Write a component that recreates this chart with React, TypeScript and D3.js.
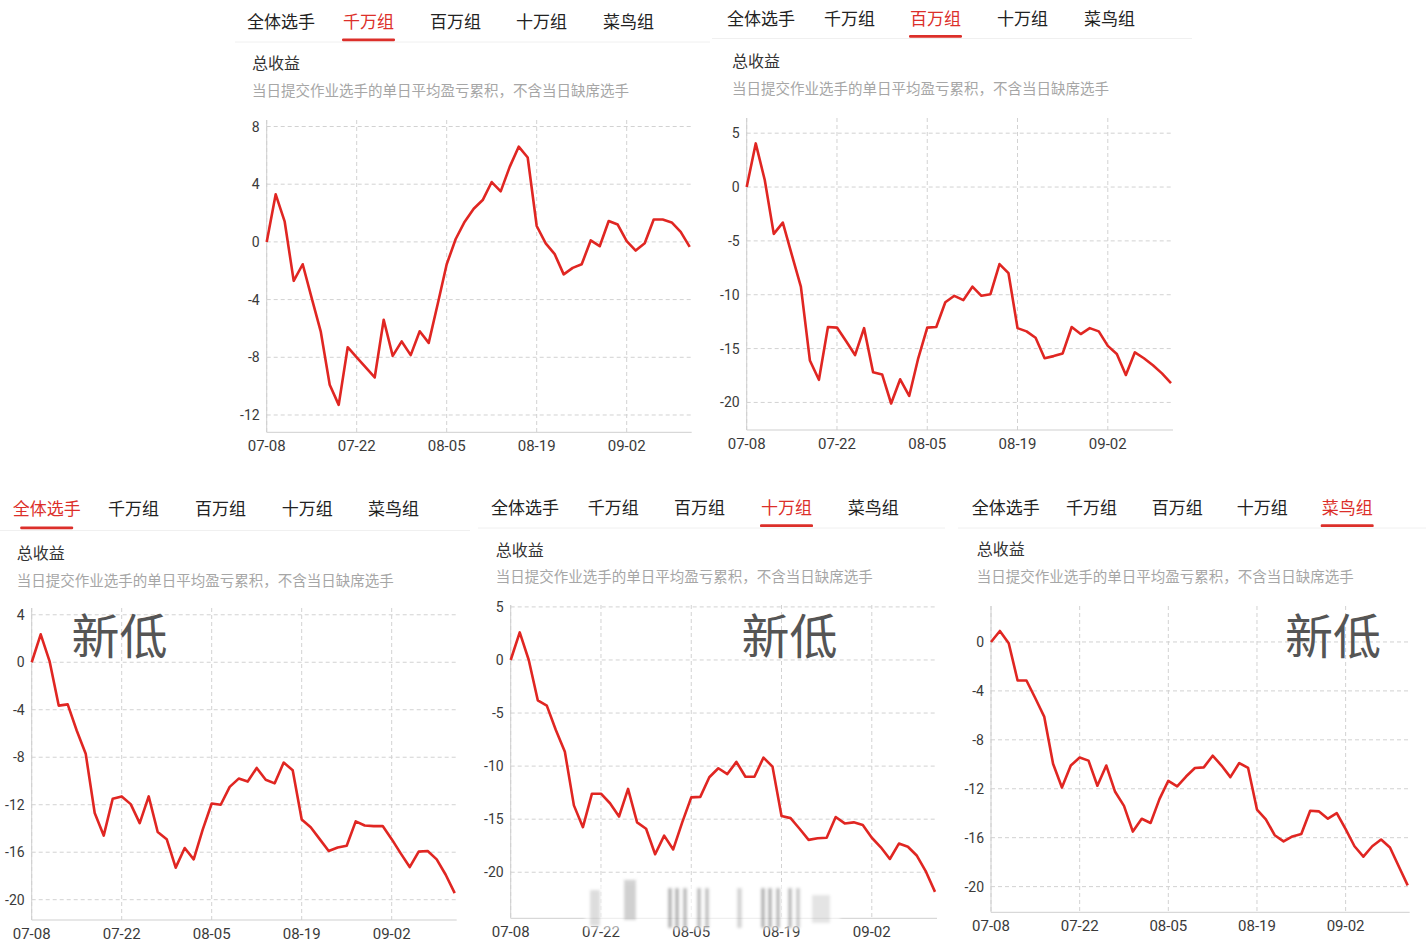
import React from "react";
import * as d3 from "d3";

// ---------- data ----------
const dates = [
  "07-08","07-09","07-10","07-11","07-12","07-15","07-16","07-17","07-18","07-19",
  "07-22","07-23","07-24","07-25","07-26","07-29","07-30","07-31","08-01","08-02",
  "08-05","08-06","08-07","08-08","08-09","08-12","08-13","08-14","08-15","08-16",
  "08-19","08-20","08-21","08-22","08-23","08-26","08-27","08-28","08-29","08-30",
  "09-02","09-03","09-04","09-05","09-06","09-09","09-10","09-11",
];
const xTickLabels = ["07-08", "07-22", "08-05", "08-19", "09-02"];
const tabs = ["全体选手", "千万组", "百万组", "十万组", "菜鸟组"];
const titleText = "总收益";
const subtitleText = "当日提交作业选手的单日平均盈亏累积，不含当日缺席选手";
const badgeText = "新低";

// 千万组
const tenMillion = [
  0, 3.3, 1.4, -2.7, -1.55, -3.9, -6.2, -9.9, -11.3, -7.3,
  -8.0, -8.7, -9.4, -5.4, -7.9, -6.9, -7.85, -6.2, -7.0, -4.3,
  -1.55, 0.2, 1.4, 2.3, 2.9, 4.15, 3.5, 5.2, 6.6, 5.85,
  1.1, -0.1, -0.85, -2.25, -1.8, -1.55, 0.1, -0.3, 1.45, 1.2,
  0.05, -0.6, -0.1, 1.55, 1.55, 1.35, 0.7, -0.35,
];
// 百万组
const million = [
  0, 4.05, 0.65, -4.35, -3.3, -6.3, -9.25, -16.1, -17.9, -13.0,
  -13.05, -14.3, -15.6, -13.1, -17.2, -17.4, -20.1, -17.85, -19.4, -15.9,
  -13.05, -13.0, -10.7, -10.1, -10.5, -9.25, -10.1, -9.95, -7.15, -8.0,
  -13.1, -13.4, -14.0, -15.9, -15.7, -15.45, -13.0, -13.65, -13.1, -13.4,
  -14.75, -15.5, -17.45, -15.35, -15.9, -16.55, -17.3, -18.2,
];
// 全体选手
const allPlayers = [
  0, 2.35, 0.05, -3.65, -3.55, -5.75, -7.7, -12.7, -14.6, -11.5,
  -11.3, -11.95, -13.55, -11.3, -14.3, -14.9, -17.3, -15.65, -16.6, -14.1,
  -11.9, -12.0, -10.5, -9.8, -10.05, -8.9, -9.9, -10.2, -8.45, -9.1,
  -13.25, -13.9, -14.9, -15.9, -15.6, -15.45, -13.4, -13.75, -13.8, -13.8,
  -14.9, -16.1, -17.25, -15.95, -15.9, -16.6, -17.9, -19.45,
];
// 十万组
const hundredK = [
  0, 2.6, 0, -3.8, -4.3, -6.6, -8.65, -13.7, -15.75, -12.6,
  -12.6, -13.5, -14.75, -12.15, -15.3, -15.9, -18.3, -16.55, -17.85, -15.3,
  -12.95, -12.9, -11.05, -10.2, -10.75, -9.6, -11.0, -11.0, -9.2, -10.05,
  -14.7, -14.9, -15.9, -16.95, -16.8, -16.75, -14.8, -15.4, -15.3, -15.55,
  -16.75, -17.65, -18.75, -17.3, -17.6, -18.45, -19.95, -21.85,
];
// 菜鸟组
const rookie = [
  0, 0.9, -0.1, -3.15, -3.15, -4.6, -6.1, -9.95, -11.9, -10.1,
  -9.45, -9.7, -11.75, -10.1, -12.25, -13.4, -15.5, -14.45, -14.8, -12.85,
  -11.35, -11.8, -11.0, -10.3, -10.25, -9.3, -10.1, -11.05, -9.9, -10.3,
  -13.7, -14.5, -15.8, -16.3, -15.9, -15.7, -13.8, -13.85, -14.45, -14.0,
  -15.3, -16.7, -17.55, -16.7, -16.15, -16.8, -18.35, -19.9,
];

const ticksTenMillion = [8, 4, 0, -4, -8, -12];
const ticksMillion = [5, 0, -5, -10, -15, -20];
const ticksAll = [4, 0, -4, -8, -12, -16, -20];
const ticksHundredK = [5, 0, -5, -10, -15, -20];
const ticksRookie = [0, -4, -8, -12, -16, -20];

// ---------- layout ----------
const RED = "#dc2f2a";
const LINE_RED = "#e02622";
const CJK = "'Noto Sans CJK SC', 'Noto Sans', sans-serif";
const NUM = "Roboto, 'Noto Sans', sans-serif";

type Panel = {
  series: number[];
  yTicks: number[];
  active: number;
  tabX: number[];
  tabY: number;
  ulY: number;
  sep: [number, number, number];
  textX: number;
  titleY: number;
  subY: number;
  plot: { x0: number; x1: number; top: number; bottom: number };
  domain: [number, number];
  badge?: [number, number];
  watermark?: boolean;
};

const panels: Panel[] = [
  {
    series: tenMillion, yTicks: ticksTenMillion, active: 1,
    tabX: [247, 343, 430, 516, 603], tabY: 27.5, ulY: 39.8, sep: [235, 710, 42],
    textX: 252, titleY: 68.5, subY: 95.5,
    plot: { x0: 266.7, x1: 689.7, top: 120, bottom: 432.3 }, domain: [-13.2, 8.45],
  },
  {
    series: million, yTicks: ticksMillion, active: 2,
    tabX: [727, 824, 910, 997, 1084], tabY: 24.5, ulY: 36.3, sep: [712, 1192, 38.5],
    textX: 732, titleY: 66.5, subY: 93.5,
    plot: { x0: 746.7, x1: 1171, top: 118, bottom: 430 }, domain: [-22.56, 6.41],
  },
  {
    series: allPlayers, yTicks: ticksAll, active: 0,
    tabX: [12.7, 108, 195, 281.7, 368], tabY: 515, ulY: 527.8, sep: [0, 470, 530.5],
    textX: 16.7, titleY: 558.5, subY: 585.5,
    plot: { x0: 31.7, x1: 454.7, top: 608, bottom: 920 }, domain: [-21.71, 4.57],
    badge: [71.5, 654],
  },
  {
    series: hundredK, yTicks: ticksHundredK, active: 3,
    tabX: [491, 587.7, 674, 761, 847.7], tabY: 513.5, ulY: 525.7, sep: [478, 945, 528],
    textX: 495.7, titleY: 555.5, subY: 582,
    plot: { x0: 510.7, x1: 935, top: 605, bottom: 918.3 }, domain: [-24.34, 5.18],
    badge: [741.5, 654], watermark: true,
  },
  {
    series: rookie, yTicks: ticksRookie, active: 4,
    tabX: [971.7, 1066, 1151.7, 1236.7, 1321.7], tabY: 513.5, ulY: 525.7, sep: [958, 1426, 528],
    textX: 976.7, titleY: 555, subY: 582,
    plot: { x0: 991, x1: 1407.7, top: 606, bottom: 912.3 }, domain: [-22.1, 2.94],
    badge: [1285, 654],
  },
];

const TAB_FS = 17;

// blurred watermark blobs (decorative, screen overlay)
const watermarkBars: [number, number, number, number, number][] = [
  [590, 890, 10, 36, 0.25],
  [624, 880, 12, 40, 0.35],
  [668, 888, 4, 40, 0.55], [675, 888, 4, 40, 0.55], [683, 888, 4, 40, 0.5], [697, 888, 4, 40, 0.5], [705, 888, 4, 40, 0.45],
  [737, 888, 5, 40, 0.3],
  [761, 888, 4, 40, 0.55], [768, 888, 4, 40, 0.55], [776, 888, 4, 40, 0.5], [788, 888, 4, 40, 0.5], [796, 888, 4, 40, 0.4],
  [812, 895, 18, 28, 0.2],
];

function ChartPanel({ p }: { p: Panel }) {
  const x = d3.scalePoint<string>().domain(dates).range([p.plot.x0, p.plot.x1]);
  const y = d3.scaleLinear().domain(p.domain).range([p.plot.bottom, p.plot.top]);
  const line = d3
    .line<number>()
    .x((_, i) => x(dates[i]) as number)
    .y((d) => y(d));
  const gridRight = p.plot.x1 + 2;
  const activeCenter = p.tabX[p.active] + (tabs[p.active].length * TAB_FS) / 2;

  return (
    <g>
      {/* tabs */}
      {tabs.map((t, i) => (
        <text
          key={t}
          x={p.tabX[i]}
          y={p.tabY}
          fontSize={TAB_FS}
          fontFamily={CJK}
          fill={i === p.active ? RED : "#222"}
        >
          {t}
        </text>
      ))}
      <line x1={p.sep[0]} x2={p.sep[1]} y1={p.sep[2]} y2={p.sep[2]} stroke="#f0f0f0" strokeWidth={1} />
      <rect x={activeCenter - 26.5} y={p.ulY - 1.4} width={53} height={2.8} rx={1.2} fill={RED} />

      {/* titles */}
      <text x={p.textX} y={p.titleY} fontSize={16} fontFamily={CJK} fill="#333">
        {titleText}
      </text>
      <text x={p.textX} y={p.subY} fontSize={14.5} fontFamily={CJK} fill="#a6a6a6">
        {subtitleText}
      </text>

      {/* grid */}
      {p.yTicks.map((v) => (
        <line
          key={"h" + v}
          x1={p.plot.x0}
          x2={gridRight}
          y1={y(v)}
          y2={y(v)}
          stroke="#d2d2d2"
          strokeDasharray="4,3"
        />
      ))}
      {xTickLabels.map((d) => (
        <line
          key={"v" + d}
          x1={x(d)}
          x2={x(d)}
          y1={p.plot.top}
          y2={p.plot.bottom}
          stroke="#d2d2d2"
          strokeDasharray="4,3"
        />
      ))}
      {/* axes */}
      <line x1={p.plot.x0} x2={p.plot.x0} y1={p.plot.top} y2={p.plot.bottom} stroke="#cfcfcf" />
      <line x1={p.plot.x0} x2={gridRight} y1={p.plot.bottom} y2={p.plot.bottom} stroke="#cfcfcf" />

      {p.yTicks.map((v) => (
        <text
          key={"yl" + v}
          x={p.plot.x0 - 7}
          y={y(v)}
          dy="0.36em"
          textAnchor="end"
          fontSize={14}
          fontFamily={NUM}
          fill="#3a3a3a"
        >
          {String(v)}
        </text>
      ))}
      {xTickLabels.map((d) => (
        <text
          key={"xl" + d}
          x={x(d)}
          y={p.plot.bottom + 19}
          textAnchor="middle"
          fontSize={15}
          fontFamily={NUM}
          fill="#3a3a3a"
        >
          {d}
        </text>
      ))}

      {/* line */}
      <path d={line(p.series) || ""} fill="none" stroke={LINE_RED} strokeWidth={2.6} strokeLinejoin="round" />

      {p.badge && (
        <text x={p.badge[0]} y={p.badge[1]} fontSize={48} fontFamily={CJK} fill="#555">
          {badgeText}
        </text>
      )}

      {p.watermark && (
        <g filter="url(#wmblur)">
          <rect x={585} y={884} width={255} height={46} fill="#fff" opacity={0.6} />
          {watermarkBars.map((b, i) => (
            <rect key={i} x={b[0]} y={b[1]} width={b[2]} height={b[3]} fill="#777" opacity={b[4]} />
          ))}
        </g>
      )}
    </g>
  );
}

export default function App() {
  return (
    <div style={{ position: "absolute", left: 0, top: 0, width: 1426, height: 945, background: "#fff" }}>
      <svg width={1426} height={945} style={{ display: "block" }}>
        <defs>
          <filter id="wmblur" x="-10%" y="-30%" width="120%" height="160%">
            <feGaussianBlur stdDeviation="1.4" />
          </filter>
        </defs>
        <rect width={1426} height={945} fill="#fff" />
        {panels.map((p, i) => (
          <ChartPanel key={i} p={p} />
        ))}
      </svg>
    </div>
  );
}
